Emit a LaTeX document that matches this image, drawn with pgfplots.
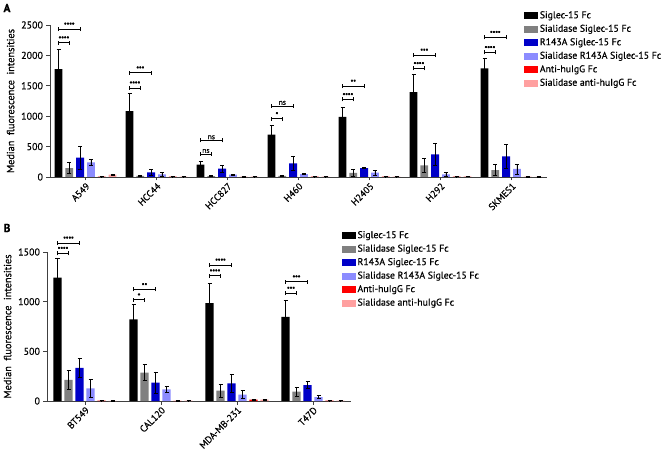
\documentclass[border=0pt]{standalone}
\usepackage{pgfplots}
\usepackage{pgfplotstable}
\pgfplotsset{compat=1.18}
\usepackage{fontspec}
\setmainfont{PT Sans}[FakeBold=0.6]
\definecolor{sgray}{HTML}{808080}
\definecolor{sblue}{HTML}{0000C8}
\definecolor{slblue}{HTML}{8C8CFF}
\definecolor{sred}{HTML}{FF0000}
\definecolor{spink}{HTML}{FFA0A0}
\definecolor{axgray}{HTML}{404040}

% Panel A data: x y e
\pgfplotstableread{
x y e
0 1775 324
1 1082 292
2 203 61
3 698 148
4 989 154
5 1396 285
6 1786 165
}\Ablack
\pgfplotstableread{
x y e
0 148 88
1 20 15
2 15 8
3 20 13
4 66 55
5 192 110
6 115 88
}\Agray
\pgfplotstableread{
x y e
0 319 186
1 77 44
2 137 55
3 225 116
4 148 5
5 374 175
6 341 197
}\Ablue
\pgfplotstableread{
x y e
0 242 44
1 44 30
2 38 8
3 49 12
4 71 39
5 44 27
6 132 82
}\Alblue
\pgfplotstableread{
x y e
0 5 2
1 8 3
2 3 1
3 5 2
4 5 2
5 8 3
6 3 1
}\Ared
\pgfplotstableread{
x y e
0 40 10
1 8 3
2 6 2
3 8 3
4 6 2
5 12 4
6 3 1
}\Apink
% Panel B data
\pgfplotstableread{
x y e
0 1241 195
1 821 151
2 985 202
3 848 168
}\Bblack
\pgfplotstableread{
x y e
0 212 94
1 286 81
2 104 68
3 94 44
}\Bgray
\pgfplotstableread{
x y e
0 333 97
1 185 108
2 178 88
3 161 37
}\Bblue
\pgfplotstableread{
x y e
0 128 91
1 118 27
2 64 40
3 40 14
}\Blblue
\pgfplotstableread{
x y e
0 3 1
1 2 1
2 13 3
3 3 1
}\Bred
\pgfplotstableread{
x y e
0 2 1
1 5 1
2 13 5
3 3 1
}\Bpink

\newcommand{\sig}[4]{%
  \draw[line width=0.6pt, black] (axis cs:#1,#3) -- (axis cs:#2,#3);
  \draw[line width=0.6pt, black] ([yshift=-2pt]axis cs:#1,#3) -- ([yshift=2pt]axis cs:#1,#3);
  \draw[line width=0.6pt, black] ([yshift=-2pt]axis cs:#2,#3) -- ([yshift=2pt]axis cs:#2,#3);
  \node[font=\fontsize{7.5}{7.5}\selectfont, above, inner sep=0.8pt] at (axis cs:{(#1+#2)/2},#3) {#4};%
}

\pgfplotsset{
  /pgfplots/ybar legend/.style={/pgfplots/legend image code/.code={\fill[##1] (0pt,-3.5pt) rectangle (14pt,3.5pt);}},
  panel/.style={
    scale only axis,
    ybar,
    ymin=0,
    axis x line*=bottom,
    axis y line*=left,
    axis line style={axgray, line width=0.9pt},
    every tick/.style={axgray, line width=0.8pt},
    tick align=outside,
    major tick length=3.5pt,
    xtick=data,
    x tick label style={rotate=45, anchor=north east, inner sep=1pt, font=\fontsize{9.5}{10}\selectfont},
    y tick label style={font=\fontsize{10}{11}\selectfont},
    /pgf/number format/assume math mode=true,
    /pgf/number format/1000 sep={},
    ylabel={Median\ \ fluorescence\ \ intensities},
    ylabel style={font=\fontsize{10.3}{11}\selectfont},
    error bars/y dir=both,
    error bars/y explicit,
    error bars/error bar style={line width=0.7pt, black},
    error bars/error mark options={rotate=90, mark size=2pt, line width=0.7pt, black},
    legend cell align=left,
    clip=false,
  },
}

\begin{document}
\begin{tikzpicture}
\useasboundingbox (0,0) rectangle (666pt,-462pt);
\node[font=\bfseries\fontsize{11.5}{11.5}\selectfont] at (7pt,-8pt) {A};
\node[font=\bfseries\fontsize{11.5}{11.5}\selectfont] at (7pt,-228pt) {B};

\begin{axis}[panel,
  at={(50pt,-177pt)}, anchor=south west,
  width=497pt, height=152pt,
  ymax=2500, ytick={0,500,...,2500},
  xmin=-0.5, xmax=6.5,
  xticklabels={A549,HCC44,HCC827,H460,H2405,H292,SKMES1},
  bar width=7.8pt, ybar=3pt,
  legend style={at={(axis description cs:0.948,1.115)}, anchor=north west, draw=none, fill=none,
    font=\fontsize{9.8}{10}\selectfont, row sep=1.5pt,
    nodes={inner sep=1.5pt, text height=7pt, text depth=2pt}},
]
\addplot[fill=black, draw=none] table[x=x,y=y,y error=e] {\Ablack};
\addplot[fill=sgray, draw=none] table[x=x,y=y,y error=e] {\Agray};
\addplot[fill=sblue, draw=none] table[x=x,y=y,y error=e] {\Ablue};
\addplot[fill=slblue, draw=none] table[x=x,y=y,y error=e] {\Alblue};
\addplot[fill=sred, draw=none] table[x=x,y=y,y error=e] {\Ared};
\addplot[fill=spink, draw=none] table[x=x,y=y,y error=e] {\Apink};
\legend{Siglec-15 Fc, Sialidase Siglec-15 Fc, R143A Siglec-15 Fc, Sialidase R143A Siglec-15 Fc, Anti-huIgG Fc, Sialidase anti-huIgG Fc}
\sig{-0.38}{-0.228}{2209}{****}
\sig{-0.38}{-0.076}{2434}{****}
\sig{0.62}{0.772}{1467}{****}
\sig{0.62}{0.924}{1714}{***}
\sig{1.62}{1.772}{379}{ns}
\sig{1.62}{1.924}{604}{ns}
\sig{2.62}{2.772}{962}{*}
\sig{2.62}{2.924}{1170}{ns}
\sig{3.62}{3.772}{1275}{****}
\sig{3.62}{3.924}{1495}{**}
\sig{4.62}{4.772}{1786}{****}
\sig{4.62}{4.924}{2005}{***}
\sig{5.62}{5.772}{2049}{****}
\sig{5.62}{5.924}{2297}{****}
\end{axis}

\begin{axis}[panel,
  at={(47pt,-401pt)}, anchor=south west,
  width=304pt, height=149pt,
  ymax=1500, ytick={0,500,1000,1500},
  xmin=-0.5, xmax=3.5,
  xticklabels={BT549,CAL120,MDA-MB-231,T47D},
  bar width=8.3pt, ybar=2.7pt,
  legend style={at={(axis description cs:0.96,1.165)}, anchor=north west, draw=none, fill=none,
    font=\fontsize{9.8}{10}\selectfont, row sep=1.5pt,
    nodes={inner sep=1.5pt, text height=7pt, text depth=2pt}},
]
\addplot[fill=black, draw=none] table[x=x,y=y,y error=e] {\Bblack};
\addplot[fill=sgray, draw=none] table[x=x,y=y,y error=e] {\Bgray};
\addplot[fill=sblue, draw=none] table[x=x,y=y,y error=e] {\Bblue};
\addplot[fill=slblue, draw=none] table[x=x,y=y,y error=e] {\Blblue};
\addplot[fill=sred, draw=none] table[x=x,y=y,y error=e] {\Bred};
\addplot[fill=spink, draw=none] table[x=x,y=y,y error=e] {\Bpink};
\legend{Siglec-15 Fc, Sialidase Siglec-15 Fc, R143A Siglec-15 Fc, Sialidase R143A Siglec-15 Fc, Anti-huIgG Fc, Sialidase anti-huIgG Fc}
\sig{-0.362}{-0.217}{1487}{****}
\sig{-0.362}{-0.072}{1591}{****}
\sig{0.638}{0.783}{1019}{*}
\sig{0.638}{0.928}{1123}{**}
\sig{1.638}{1.783}{1261}{****}
\sig{1.638}{1.928}{1369}{****}
\sig{2.638}{2.783}{1086}{***}
\sig{2.638}{2.928}{1201}{***}
\end{axis}
\end{tikzpicture}
\end{document}
